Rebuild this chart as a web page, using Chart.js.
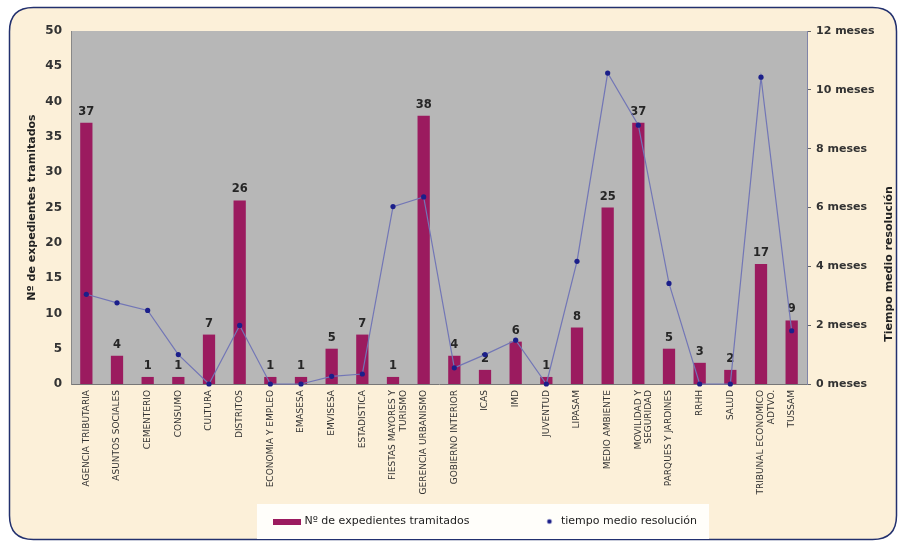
<!DOCTYPE html>
<html><head><meta charset="utf-8">
<script src="https://cdn.jsdelivr.net/npm/chart.js@4.4.1/dist/chart.umd.min.js"></script>
<style>html,body{margin:0;padding:0;background:#fff;}#wrap{width:898px;height:541px;}</style>
</head><body><div id="wrap"><canvas id="c" width="898" height="541"></canvas></div>
<script>
const categories = [
  'AGENCIA TRIBUTARIA','ASUNTOS SOCIALES','CEMENTERIO','CONSUMO','CULTURA','DISTRITOS',
  'ECONOMIA Y EMPLEO','EMASESA','EMVISESA','ESTADISTICA',['FIESTAS MAYORES Y','TURISMO'],
  'GERENCIA URBANISMO','GOBIERNO INTERIOR','ICAS','IMD','JUVENTUD','LIPASAM','MEDIO AMBIENTE',
  ['MOVILIDAD Y','SEGURIDAD'],'PARQUES Y JARDINES','RRHH','SALUD',['TRIBUNAL ECONOMICO','ADTVO.'],'TUSSAM'
];
const expedientes = [37,4,1,1,7,26,1,1,5,7,1,38,4,2,6,1,8,25,37,5,3,2,17,9];
const tiempoMeses = [3.05,2.76,2.5,1.0,0,1.99,0,0,0.26,0.34,6.03,6.36,0.55,1.0,1.49,0,4.17,10.57,8.8,3.42,0,0,10.43,1.81];
const leftTicks = [0,5,10,15,20,25,30,35,40,45,50];
const rightTicks = [0,2,4,6,8,10,12];
const rightTickLabels = ['0 meses','2 meses','4 meses','6 meses','8 meses','10 meses','12 meses'];
const seriesNames = ['Nº de expedientes tramitados','tiempo medio resolución'];
const leftAxisTitle = 'Nº de expedientes tramitados';
const rightAxisTitle = 'Tiempo medio resolución';

const FONT = "'DejaVu Sans', 'Liberation Sans', sans-serif";
const barColor = '#9b1b5f';
const lineColor = '#7276b6';
const pointColor = '#1b1f8a';
const LW = 80;

function makeImg(w, h, fn){ const c = document.createElement('canvas'); c.width = w; c.height = h; fn(c.getContext('2d')); return c; }
const barSwatch = makeImg(LW + 4, 6, g => { g.fillStyle = barColor; g.fillRect(LW + 4 - 28, 0, 28, 6); });
const dotSwatch = makeImg(LW, 8, g => { g.fillStyle = pointColor; g.beginPath(); g.arc(LW - 6, 4, 2.3, 0, Math.PI * 2); g.fill(); });

const decor = {
  id: 'decor',
  beforeDraw(chart) {
    const ctx = chart.ctx, a = chart.chartArea;
    ctx.save();
    const x0 = 9.5, y0 = 7.5, x1 = 896.5, y1 = 539.5, r = 24;
    ctx.beginPath();
    ctx.moveTo(x0 + r, y0); ctx.lineTo(x1 - r, y0); ctx.quadraticCurveTo(x1, y0, x1, y0 + r);
    ctx.lineTo(x1, y1 - r); ctx.quadraticCurveTo(x1, y1, x1 - r, y1);
    ctx.lineTo(x0 + r, y1); ctx.quadraticCurveTo(x0, y1, x0, y1 - r);
    ctx.lineTo(x0, y0 + r); ctx.quadraticCurveTo(x0, y0, x0 + r, y0);
    ctx.closePath();
    ctx.fillStyle = '#fcf0d9'; ctx.fill();
    ctx.lineWidth = 1.5; ctx.strokeStyle = '#22306e'; ctx.stroke();
    const hb = chart.legend && chart.legend.legendHitBoxes;
    if (hb && hb.length) {
      const f = hb[0], l = hb[hb.length - 1];
      const left = f.left + LW - 26 - 16, right = l.left + l.width + 12;
      ctx.fillStyle = '#fffefa';
      ctx.fillRect(left, f.top - 12, right - left, f.height + 24);
    }
    ctx.fillStyle = '#b7b7b7';
    ctx.fillRect(a.left, a.top, a.right - a.left, a.bottom - a.top);
    ctx.restore();
  },
  afterDatasetDraw(chart, args) {
    if (args.index !== 0) return;
    const ctx = chart.ctx;
    ctx.save();
    ctx.font = 'bold 11.5px ' + FONT;
    ctx.fillStyle = '#262626';
    ctx.textAlign = 'center';
    ctx.textBaseline = 'alphabetic';
    args.meta.data.forEach((bar, i) => { ctx.fillText(String(expedientes[i]), bar.x, bar.y - 8); });
    ctx.restore();
  },
  afterDraw(chart) {
    const ctx = chart.ctx, a = chart.chartArea;
    ctx.save();
    ctx.font = 'bold 11px ' + FONT;
    ctx.fillStyle = '#222';
    ctx.textAlign = 'center';
    ctx.textBaseline = 'middle';
    ctx.translate(chart.scales.y1.right - 9, a.top + (a.bottom - a.top) * 0.66);
    ctx.rotate(-Math.PI / 2);
    ctx.fillText(rightAxisTitle, 0, 0);
    ctx.restore();
  }
};

new Chart(document.getElementById('c'), {
  data: {
    labels: categories,
    datasets: [
      { type: 'bar', label: seriesNames[0], data: expedientes, yAxisID: 'y', backgroundColor: barColor,
        borderWidth: 0, barPercentage: 0.4, categoryPercentage: 1.0, order: 1 },
      { type: 'line', label: seriesNames[1], data: tiempoMeses, yAxisID: 'y1', borderColor: lineColor,
        borderWidth: 1.2, pointRadius: 2.6, pointBackgroundColor: pointColor, pointBorderColor: pointColor,
        pointBorderWidth: 0, tension: 0, clip: false, order: 0 }
    ]
  },
  options: {
    responsive: false,
    animation: false,
    devicePixelRatio: 1,
    layout: { padding: { left: 18, right: 0, top: 31, bottom: 4 } },
    plugins: {
      tooltip: { enabled: false },
      legend: {
        position: 'bottom',
        labels: {
          usePointStyle: true, pointStyleWidth: LW, boxHeight: 6, padding: 6,
          color: '#222', font: { family: FONT, size: 11 },
          sort: (a, b) => a.datasetIndex - b.datasetIndex,
          generateLabels(chart) {
            const items = Chart.defaults.plugins.legend.labels.generateLabels(chart);
            items.forEach(it => { it.pointStyle = it.datasetIndex === 0 ? barSwatch : dotSwatch; it.lineWidth = 0; });
            return items;
          }
        }
      }
    },
    scales: {
      x: {
        grid: { display: false, drawTicks: false },
        border: { display: true, color: '#777' },
        ticks: { autoSkip: false, minRotation: 90, maxRotation: 90, padding: 6, color: '#333',
                 font: { family: FONT, size: 9 } },
        afterFit(s) { s.height = 126; }
      },
      y: {
        position: 'left', min: 0, max: 50,
        afterBuildTicks(s) { s.ticks = leftTicks.map(v => ({ value: v })); },
        grid: { display: false, drawTicks: false },
        border: { display: true, color: '#888' },
        ticks: { padding: 9, color: '#333', font: { family: FONT, size: 12, weight: 'bold' } },
        title: { display: true, text: leftAxisTitle, color: '#222', padding: { top: 8, bottom: 0 },
                 font: { family: FONT, size: 11, weight: 'bold' } },
        afterFit(s) { s.width = 53; }
      },
      y1: {
        position: 'right', min: 0, max: 12,
        afterBuildTicks(s) { s.ticks = rightTicks.map(v => ({ value: v })); },
        grid: { display: true, drawOnChartArea: false, drawTicks: true, tickLength: 4, color: '#666' },
        border: { display: true, color: '#8084a8' },
        ticks: { padding: 5, color: '#333', font: { family: FONT, size: 11, weight: 'bold' },
                 callback: (v, i) => rightTickLabels[i] },
        afterFit(s) { s.width = 91; }
      }
    }
  },
  plugins: [decor]
});
</script>
</body></html>
